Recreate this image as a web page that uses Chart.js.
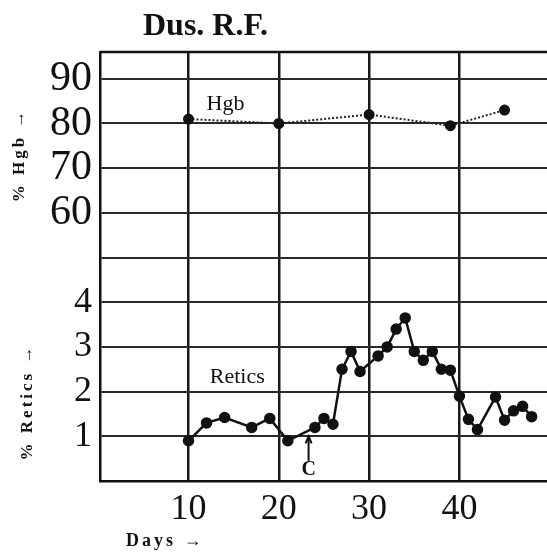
<!DOCTYPE html>
<html><head><meta charset="utf-8">
<script src="https://cdn.jsdelivr.net/npm/chart.js@4"></script>
<style>html,body{margin:0;padding:0;background:#fff;overflow:hidden}#wrap{position:relative;width:547px;height:554px}</style>
</head><body><div id="wrap"><canvas id="c" width="547" height="554"></canvas></div>
<script>
// ---- data ----
const chartTitle = 'Dus. R.F.';
const xAxisLabel = 'Days \u2192';
const hgbAxisLabel = '% Hgb \u2192';
const reticAxisLabel = '% Retics \u2192';
const hgbDays   = [10, 20, 30, 39, 45];
const hgbValues = [81, 80, 82, 79.5, 83];
const reticDays   = [10, 12, 14, 17, 19, 21, 24, 25, 26, 27, 28, 29, 31, 32, 33, 34, 35, 36, 37, 38, 39, 40, 41, 42, 44, 45, 46, 47, 48];
const reticValues = [0.9, 1.3, 1.42, 1.2, 1.4, 0.9, 1.2, 1.4, 1.27, 2.5, 2.9, 2.45, 2.8, 3.0, 3.4, 3.65, 2.9, 2.7, 2.9, 2.5, 2.48, 1.9, 1.38, 1.15, 1.88, 1.36, 1.57, 1.67, 1.44];
const dayTicks = [10, 20, 30, 40];
const reticTickLabels = ['1', '2', '3', '4'];
const hgbTickLabels = ['60', '70', '80', '90'];
const cMarkerDay = 23.3;

// Hgb % maps onto the shared grid as value/10 (60 -> 6 ... 90 -> 9)
const gridUnits = [0,1,2,3,4,5,6,7,8,9];

const ink = '#111';
const serif = '"Liberation Serif", "DejaVu Serif", serif';

const deco = {
  id: 'deco',
  afterDraw(chart) {
    const {ctx, chartArea: a, scales: {x, y}} = chart;
    ctx.save();
    ctx.strokeStyle = ink; ctx.fillStyle = ink;
    // top border
    ctx.lineWidth = 2.5;
    ctx.beginPath(); ctx.moveTo(a.left, a.top); ctx.lineTo(a.right, a.top); ctx.stroke();
    // title
    ctx.font = 'bold 32px ' + serif; ctx.textAlign = 'left'; ctx.textBaseline = 'alphabetic';
    ctx.fillText(chartTitle, 143, 35);
    // x axis label
    ctx.font = 'bold 18px ' + serif;
    ctx.letterSpacing = '3px';
    ctx.fillText(xAxisLabel, 126, 546);
    // rotated y labels
    const rot = (t, cx, cy) => {
      ctx.save(); ctx.translate(cx, cy); ctx.rotate(-Math.PI / 2);
      ctx.font = 'bold 17px ' + serif; ctx.letterSpacing = '3px';
      ctx.textAlign = 'center'; ctx.textBaseline = 'middle';
      ctx.fillText(t, 0, 0); ctx.restore();
    };
    rot(hgbAxisLabel, 20, 155);
    rot(reticAxisLabel, 28, 402);
    ctx.letterSpacing = '0px';
    // series labels
    ctx.textAlign = 'center'; ctx.textBaseline = 'middle';
    ctx.font = '22px ' + serif;
    ctx.fillText('Hgb', x.getPixelForValue(14.1), y.getPixelForValue(8.44));
    ctx.fillText('Retics', x.getPixelForValue(15.4), y.getPixelForValue(2.32));
    // C marker arrow
    const cx = x.getPixelForValue(cMarkerDay);
    const yTop = y.getPixelForValue(1.0), yBot = y.getPixelForValue(0.45);
    ctx.lineWidth = 2;
    ctx.beginPath(); ctx.moveTo(cx, yTop); ctx.lineTo(cx, yBot); ctx.stroke();
    ctx.beginPath(); ctx.moveTo(cx - 3, yTop + 7); ctx.lineTo(cx, yTop); ctx.lineTo(cx + 3, yTop + 7); ctx.stroke();
    ctx.font = 'bold 20px ' + serif;
    ctx.fillText('C', cx, y.getPixelForValue(0.24));
    ctx.restore();
  }
};

new Chart(document.getElementById('c'), {
  type: 'scatter',
  data: {
    datasets: [
      {
        label: 'Hgb',
        data: hgbDays.map((d, i) => ({x: d, y: hgbValues[i]})),
        yAxisID: 'yH',
        showLine: true,
        borderColor: '#222', borderWidth: 2, borderDash: [2, 2],
        pointRadius: 4.5, pointBackgroundColor: ink, pointBorderColor: ink
      },
      {
        label: 'Retics',
        data: reticDays.map((d, i) => ({x: d, y: reticValues[i]})),
        yAxisID: 'y',
        showLine: true,
        borderColor: ink, borderWidth: 2.5,
        pointRadius: 4.5, pointBackgroundColor: ink, pointBorderColor: ink
      }
    ]
  },
  options: {
    responsive: false,
    animation: false,
    devicePixelRatio: 1,
    layout: {autoPadding: false, padding: {top: 52, left: 0, right: 0, bottom: 0}},
    plugins: {legend: {display: false}, tooltip: {enabled: false}, title: {display: false}},
    scales: {
      x: {
        type: 'linear', min: 0.2, max: 49.7,
        afterBuildTicks: s => { s.ticks = dayTicks.map(v => ({value: v})); },
        afterFit: s => { s.height = 73; },
        grid: {color: '#1a1a1a', lineWidth: 2.5, drawTicks: false},
        border: {display: true, color: ink, width: 2.5},
        ticks: {color: ink, padding: 7, autoSkip: false, maxRotation: 0, font: {family: serif, size: 36}, callback: v => String(v)}
      },
      y: {
        type: 'linear', min: 0, max: 9.6,
        afterBuildTicks: s => { s.ticks = gridUnits.map(v => ({value: v})); },
        afterFit: s => { s.width = 100; },
        grid: {color: '#2a2a2a', lineWidth: 2, drawTicks: false},
        border: {display: true, color: ink, width: 2.5},
        ticks: {
          color: ink, padding: 8, autoSkip: false,
          font: ctx => (ctx.tick && ctx.tick.value >= 6) ? {family: serif, size: 42} : {family: serif, size: 36},
          callback: v => {
            const r = reticTickLabels.find(t => +t === v);
            if (r) return r;
            const h = hgbTickLabels.find(t => +t / 10 === v);
            return h || '';
          }
        }
      },
      yH: {type: 'linear', display: false, min: 0, max: 96}
    }
  },
  plugins: [deco]
});
</script>
</body></html>
